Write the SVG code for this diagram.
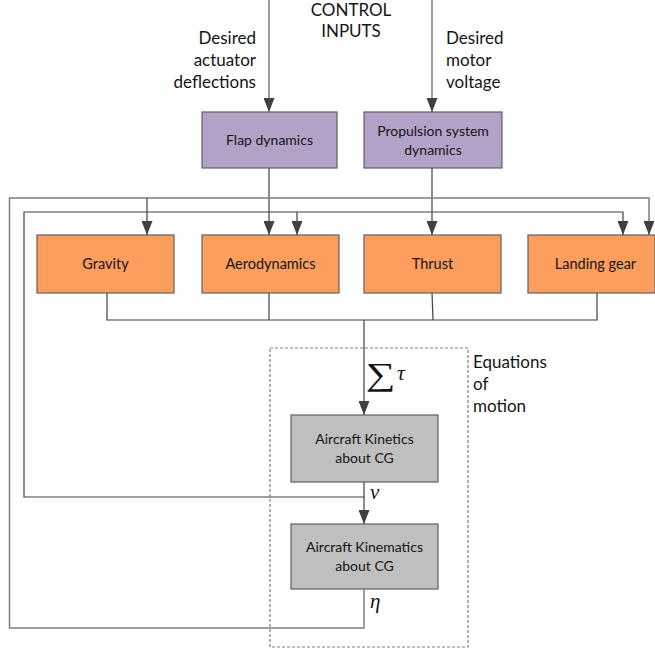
<svg xmlns="http://www.w3.org/2000/svg" width="655" height="651" viewBox="0 0 655 651">
  <style>
    .txt { font-family: "Lato", "Liberation Sans", sans-serif; fill: #141414; }
    .lbl { font-size: 17px; }
    .box-txt { font-size: 14px; text-anchor: middle; }
    .force-txt { font-size: 14.5px; text-anchor: middle; }
    .math { font-family: "Liberation Serif", "DejaVu Serif", serif; fill: #141414; font-style: italic; }
    .purple { fill: #B3A2C7; stroke: #5f5f5f; stroke-width: 1.2; }
    .orange { fill: #FE9E5E; stroke: #5f5f5f; stroke-width: 1.2; }
    .grey { fill: #BFBFBF; stroke: #5f5f5f; stroke-width: 1.2; }
    .wire { fill: none; stroke: #404040; stroke-width: 1.2; }
    .wire-light { fill: none; stroke: #7f7f7f; stroke-width: 1.5; }
  </style>
  <defs>
    <marker id="arrowDown" markerUnits="userSpaceOnUse" markerWidth="11" markerHeight="14" refX="5.5" refY="14" viewBox="0 0 11 14" orient="0">
      <path d="M0,0 L11,0 L5.5,14 Z" fill="#404040"/>
    </marker>
  </defs>

  <!-- control input labels -->
  <g id="control-inputs" class="txt lbl">
    <text x="351" y="16" text-anchor="middle">CONTROL</text>
    <text x="351" y="37" text-anchor="middle">INPUTS</text>
    <text x="256" y="44" text-anchor="end">Desired</text>
    <text x="256" y="66" text-anchor="end">actuator</text>
    <text x="256" y="88" text-anchor="end">deflections</text>
    <text x="446" y="44">Desired</text>
    <text x="446" y="66">motor</text>
    <text x="446" y="88">voltage</text>
  </g>

  <!-- connectors -->
  <g id="connectors">
    <!-- control inputs into actuator blocks -->
    <line class="wire-light" x1="269" y1="0" x2="269" y2="112" marker-end="url(#arrowDown)"/>
    <line class="wire-light" x1="432" y1="0" x2="432" y2="112" marker-end="url(#arrowDown)"/>
    <!-- actuator outputs into force blocks -->
    <line class="wire" x1="269" y1="168" x2="269" y2="235" marker-end="url(#arrowDown)"/>
    <line class="wire" x1="432" y1="168" x2="432" y2="235" marker-end="url(#arrowDown)"/>
    <!-- force summation bus -->
    <polyline class="wire" points="107,293 107,320 597,320 597,293"/>
    <line class="wire" x1="269" y1="293" x2="269" y2="320"/>
    <line class="wire" x1="432" y1="293" x2="433" y2="320"/>
    <line class="wire" x1="364" y1="320" x2="364" y2="415" marker-end="url(#arrowDown)"/>
    <!-- velocity nu into kinematics and feedback -->
    <line class="wire" x1="364" y1="482" x2="364" y2="524" marker-end="url(#arrowDown)"/>
    <polyline class="wire" points="364,497 24,497 24,212 623,212 623,235" marker-end="url(#arrowDown)"/>
    <line class="wire" x1="297" y1="212" x2="297" y2="235" marker-end="url(#arrowDown)"/>
    <!-- position eta feedback -->
    <polyline class="wire-light" points="364,589 364,628 9.5,628 9.5,198 649,198 649,235" marker-end="url(#arrowDown)"/>
    <line class="wire" x1="147" y1="198" x2="147" y2="235" marker-end="url(#arrowDown)"/>
  </g>

  <!-- actuator blocks -->
  <g id="flap-dynamics">
    <rect class="purple" x="202" y="112" width="135" height="56"/>
    <text class="txt box-txt" x="269.5" y="145">Flap dynamics</text>
  </g>
  <g id="propulsion-dynamics">
    <rect class="purple" x="364" y="112" width="138" height="56"/>
    <text class="txt box-txt" x="433" y="136">Propulsion system</text>
    <text class="txt box-txt" x="433" y="155">dynamics</text>
  </g>

  <!-- force blocks -->
  <g id="gravity">
    <rect class="orange" x="37" y="235" width="137" height="58"/>
    <text class="txt force-txt" x="105.5" y="269">Gravity</text>
  </g>
  <g id="aerodynamics">
    <rect class="orange" x="202" y="235" width="137" height="58"/>
    <text class="txt force-txt" x="270.5" y="269">Aerodynamics</text>
  </g>
  <g id="thrust">
    <rect class="orange" x="364" y="235" width="137" height="58"/>
    <text class="txt force-txt" x="432.5" y="269">Thrust</text>
  </g>
  <g id="landing-gear">
    <rect class="orange" x="528" y="235" width="127" height="58"/>
    <text class="txt force-txt" x="595.5" y="269">Landing gear</text>
  </g>

  <!-- equations of motion -->
  <g id="equations-of-motion">
    <rect x="270" y="348" width="198" height="299" fill="none" stroke="#7f7f7f" stroke-width="1.2" stroke-dasharray="3,2"/>
    <text class="txt lbl" x="473" y="368">Equations</text>
    <text class="txt lbl" x="473" y="390">of</text>
    <text class="txt lbl" x="473" y="412">motion</text>
  </g>
  <g id="sum-tau">
    <text transform="translate(366,385) scale(1.3,1)" font-family="Liberation Serif, DejaVu Serif, serif" font-size="32" fill="#141414">∑</text>
    <text class="math" x="397" y="380" font-size="22">τ</text>
  </g>
  <g id="kinetics">
    <rect class="grey" x="291" y="415" width="147" height="67"/>
    <text class="txt box-txt" x="364.5" y="444">Aircraft Kinetics</text>
    <text class="txt box-txt" x="364.5" y="463">about CG</text>
  </g>
  <g id="nu-label">
    <text class="math" x="370" y="499" font-size="21">ν</text>
  </g>
  <g id="kinematics">
    <rect class="grey" x="291" y="524" width="147" height="65"/>
    <text class="txt box-txt" x="364.5" y="552">Aircraft Kinematics</text>
    <text class="txt box-txt" x="364.5" y="571">about CG</text>
  </g>
  <g id="eta-label">
    <text class="math" x="370" y="608" font-size="21">η</text>
  </g>
</svg>
